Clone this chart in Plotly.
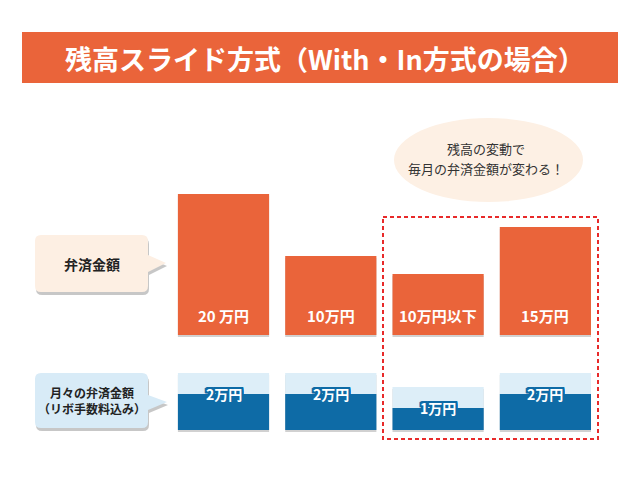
import plotly.graph_objects as go

# ---------------- data ----------------
categories = ["m1", "m2", "m3", "m4"]
balance_labels = ["20 万円", "10万円", "10万円以下", "15万円"]
balance_heights = [141, 79, 61, 108]          # visual heights of 弁済金額 bars
payment_labels = ["2万円", "2万円", "1万円", "2万円"]
payment_dark = [36, 36, 22, 36]               # dark part of 月々の弁済金額 bars
payment_light = [21, 21, 21, 21]              # light part on top

title_text = "残高スライド方式（With・In方式の場合）"
bubble_lines = ["残高の変動で", "毎月の弁済金額が変わる！"]
callout1_text = "弁済金額"
callout2_lines = ["月々の弁済金額", "（リボ手数料込み）"]

# ---------------- style ----------------
W, H = 640, 494
ORANGE = "#EA643A"
DARK_BLUE = "#0E6BA6"
LIGHT_BLUE = "#DDEEF8"
PEACH = "#FDEFE3"
CALLOUT_BLUE = "#D8EBF7"
RED = "#E82A2A"
FONT = "Noto Sans CJK JP"

BAL_BASE = 335
PAY_BASE = 430

fig = go.Figure()

# shadows
fig.add_trace(go.Bar(x=categories, y=[-h for h in balance_heights], base=BAL_BASE + 2,
                     width=0.85, marker=dict(color="rgba(0,0,0,0.18)", line=dict(width=0)),
                     xaxis="x2", yaxis="y", hoverinfo="skip"))
pay_total = [d + l for d, l in zip(payment_dark, payment_light)]
fig.add_trace(go.Bar(x=categories, y=[-t for t in pay_total], base=PAY_BASE + 2,
                     width=0.85, marker=dict(color="rgba(0,0,0,0.18)", line=dict(width=0)),
                     xaxis="x2", yaxis="y", hoverinfo="skip"))

# balance bars
fig.add_trace(go.Bar(x=categories, y=[-h for h in balance_heights], base=BAL_BASE,
                     width=0.85, marker=dict(color=ORANGE, line=dict(width=0)),
                     xaxis="x2", yaxis="y", hoverinfo="skip"))
# payment bars: dark part + light part
fig.add_trace(go.Bar(x=categories, y=[-d for d in payment_dark], base=PAY_BASE,
                     width=0.85, marker=dict(color=DARK_BLUE, line=dict(width=0)),
                     xaxis="x2", yaxis="y", hoverinfo="skip"))
fig.add_trace(go.Bar(x=categories, y=[-l for l in payment_light],
                     base=[PAY_BASE - d for d in payment_dark],
                     width=0.85, marker=dict(color=LIGHT_BLUE, line=dict(width=0)),
                     xaxis="x2", yaxis="y", hoverinfo="skip"))

annotations = []
for c, lab in zip(categories, balance_labels):
    annotations.append(dict(x=c, y=BAL_BASE - 20, xref="x2", yref="y", text=f"<b>{lab}</b>",
                            showarrow=False, font=dict(family=FONT, size=15, color="white")))
outline = ", ".join(f"{dx}px {dy}px 0 {DARK_BLUE}" for dx in (-2, -1, 0, 1, 2) for dy in (-2, -1, 0, 1, 2) if dx or dy)
for c, lab, d in zip(categories, payment_labels, payment_dark):
    annotations.append(dict(x=c, y=PAY_BASE - d, xref="x2", yref="y", text=f"<b>{lab}</b>",
                            showarrow=False,
                            font=dict(family=FONT, size=14, color="white", shadow=outline)))

shapes = []
# title bar
shapes.append(dict(type="rect", x0=22, x1=618, y0=32, y1=83, xref="x", yref="y",
                   fillcolor=ORANGE, line=dict(width=0), layer="below"))
annotations.append(dict(x=325, y=58, xref="x", yref="y", text=f"<b>{title_text}</b>",
                        showarrow=False, font=dict(family=FONT, size=27, color="white")))

# bubble ellipse
shapes.append(dict(type="circle", x0=394, x1=583, y0=118, y1=202, xref="x", yref="y",
                   fillcolor="#FDF0E4", line=dict(width=0), layer="below"))
for yy, t in zip([148, 168], bubble_lines):
    annotations.append(dict(x=486, y=yy, xref="x", yref="y", text=t, showarrow=False,
                            borderpad=0, font=dict(family=FONT, size=13, color="#333333")))


def callout_path(x0, y0, x1, y1, r, py0, tx, ty, py1, dx=0, dy=0):
    x0 += dx; x1 += dx; tx += dx
    y0 += dy; y1 += dy; py0 += dy; py1 += dy; ty += dy
    return (f"M {x0+r},{y0} L {x1-r},{y0} Q {x1},{y0} {x1},{y0+r} L {x1},{py0} "
            f"L {tx},{ty} L {x1},{py1} L {x1},{y1-r} Q {x1},{y1} {x1-r},{y1} "
            f"L {x0+r},{y1} Q {x0},{y1} {x0},{y1-r} L {x0},{y0+r} Q {x0},{y0} {x0+r},{y0} Z")


for (box, fill) in [((35, 235, 148, 292, 6, 255, 166, 263, 272), PEACH),
                    ((35, 373, 148, 428, 6, 395, 167, 402, 410), CALLOUT_BLUE)]:
    shapes.append(dict(type="path", path=callout_path(*box, dx=1, dy=3), xref="x", yref="y",
                       fillcolor="rgba(0,0,0,0.22)", line=dict(width=0), layer="below"))
    shapes.append(dict(type="path", path=callout_path(*box), xref="x", yref="y",
                       fillcolor=fill, line=dict(width=0), layer="below"))

annotations.append(dict(x=92, y=264, xref="x", yref="y", text=f"<b>{callout1_text}</b>",
                        showarrow=False, font=dict(family=FONT, size=14, color="#222222")))
for yy, t in zip([392, 408], callout2_lines):
    annotations.append(dict(x=92, y=yy, xref="x", yref="y", text=f"<b>{t}</b>",
                            showarrow=False, borderpad=0,
                            font=dict(family=FONT, size=12, color="#222222")))

# red dotted frame
shapes.append(dict(type="rect", x0=383, x1=598, y0=217, y1=439, xref="x", yref="y",
                   fillcolor="rgba(0,0,0,0)", line=dict(color=RED, width=2, dash="4px,3px"),
                   layer="above"))

# category axis placement: first bar center 223.5px, step ~107.3px
step = 107.3
r0 = -223.5 / step
r1 = r0 + W / step

fig.update_layout(
    width=W, height=H, margin=dict(l=0, r=0, t=0, b=0),
    paper_bgcolor="white", plot_bgcolor="white",
    showlegend=False, barmode="overlay",
    xaxis=dict(range=[0, W], visible=False, fixedrange=True),
    xaxis2=dict(type="category", range=[r0, r1], overlaying="x", visible=False,
                categoryorder="array", categoryarray=categories),
    yaxis=dict(range=[H, 0], visible=False, fixedrange=True),
    shapes=shapes, annotations=annotations,
)

fig.write_html("out.html", config={"displayModeBar": False},
               post_script="document.body.style.margin='0';document.body.style.overflow='hidden';")
